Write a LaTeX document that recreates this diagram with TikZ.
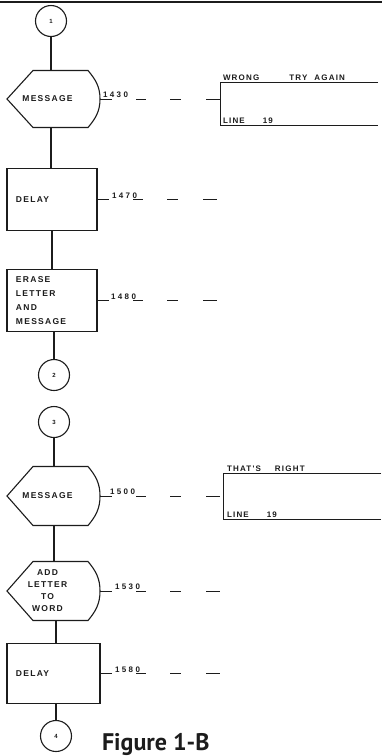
\documentclass[tikz,border=0pt]{standalone}
\usepackage{fontspec}
\usepackage{xcolor}
\usepackage{tikz}
\usetikzlibrary{positioning}
\newfontfamily\flowLetters{Liberation Sans}[LetterSpace=15]
\newfontfamily\flowDigits{Liberation Sans}[LetterSpace=30]
\newfontfamily\flowCaption{PT Sans}
\definecolor{flowInk}{HTML}{1C1C1C}
\tikzset{
  flowLine/.style={
    draw=flowInk,
    line width=1.1pt
  },
  flowStep/.style={
    flowLine,
    minimum width=90pt,
    minimum height=62pt,
    text width=72pt,
    inner xsep=9pt,
    inner ysep=0pt,
    align=left,
    text=flowInk,
    font=\flowLetters\bfseries\fontsize{8.5}{14}\selectfont
  },
  flowDisplay/.style={
    minimum width=81pt,
    minimum height=57pt,
    inner sep=0pt,
    align=center,
    text=flowInk,
    font=\flowLetters\bfseries\fontsize{8.5}{12}\selectfont
  },
  flowConnector/.style={
    flowLine,
    circle,
    minimum size=31pt,
    inner sep=0pt,
    text=flowInk,
    font=\flowLetters\bfseries\fontsize{6}{7}\selectfont
  },
  flowScreen/.style={
    minimum width=158pt,
    inner sep=0pt
  },
  flowScreenText/.style={
    anchor=south west,
    inner sep=1pt,
    text=flowInk,
    font=\flowLetters\bfseries\fontsize{8}{9}\selectfont
  },
  flowCont/.style={
    draw=flowInk,
    line width=0.9pt,
    dash pattern=on 12pt off 24pt on 10pt off 24pt on 11pt off 25pt on 14pt off 40pt
  },
  flowNum/.style={
    anchor=south west,
    inner sep=1pt,
    text=flowInk,
    font=\flowDigits\bfseries\fontsize{8}{9}\selectfont
  }
}
\begin{document}
\begin{tikzpicture}[
  x=1pt, y=1pt,
  every node/.style={outer sep=0pt}
]
\useasboundingbox[fill=white] (0,0) rectangle (382,-756);
\draw[flowInk, line width=1.6pt] (0,-2) -- (382,-2);

% main column
\node[flowConnector] (circOne) at (51,-21) {1};
\node[flowDisplay, below=34pt of circOne, xshift=-3.5pt] (msgWrong) {MESSAGE};
\node[flowStep, below=41pt of msgWrong, xshift=4.5pt] (delayWrong) {DELAY};
\node[flowStep, below=39pt of delayWrong] (eraseLetter)
  {ERASE\\LETTER\\AND\\MESSAGE};
\node[flowConnector, below=28pt of eraseLetter, xshift=2pt] (circTwo) {2};
\node[flowConnector, below=16pt of circTwo] (circThree) {3};
\node[flowDisplay, minimum height=59pt, below=29pt of circThree, xshift=-6.5pt]
  (msgRight) {MESSAGE};
\node[flowDisplay, minimum height=59pt, below=36pt of msgRight] (addLetter)
  {ADD\\LETTER\\TO\\WORD};
\node[flowStep, minimum width=93pt, minimum height=60pt, text width=75pt,
  below=23pt of addLetter, xshift=6pt] (delayRight) {DELAY};
\node[flowConnector, below=17pt of delayRight, xshift=2.5pt] (circFour) {4};

% display outlines
\draw[flowLine] (msgWrong.west) -- ([xshift=26pt]msgWrong.north west)
  -- (msgWrong.north east) to[out=-50,in=90] ([xshift=12pt]msgWrong.east)
  to[out=-90,in=50] (msgWrong.south east) -- ([xshift=26pt]msgWrong.south west)
  -- cycle;
\draw[flowLine] (msgRight.west) -- ([xshift=26pt]msgRight.north west)
  -- (msgRight.north east) to[out=-50,in=90] ([xshift=12pt]msgRight.east)
  to[out=-90,in=50] (msgRight.south east) -- ([xshift=26pt]msgRight.south west)
  -- cycle;
\draw[flowLine] (addLetter.west) -- ([xshift=26pt]addLetter.north west)
  -- (addLetter.north east) to[out=-50,in=90] ([xshift=12pt]addLetter.east)
  to[out=-90,in=50] (addLetter.south east) -- ([xshift=26pt]addLetter.south west)
  -- cycle;

\draw[flowLine] (circOne.south) -- (circOne |- msgWrong.north);
\draw[flowLine] (msgWrong.south -| circOne) -- (delayWrong.north -| circOne);
\draw[flowLine] (delayWrong.south) -- (eraseLetter.north);
\draw[flowLine] (eraseLetter.south -| circTwo) -- (circTwo.north);
\draw[flowLine] (circThree.south) -- (circThree |- msgRight.north);
\draw[flowLine] (msgRight.south -| circThree) -- (addLetter.north -| circThree);
\draw[flowLine] (addLetter.south -| circFour) -- (delayRight.north -| circFour);
\draw[flowLine] (delayRight.south -| circFour) -- (circFour.north);

% screen text
\node[flowScreen, minimum height=43pt, right=132pt of msgWrong, yshift=-5pt]
  (scrWrong) {};
\draw[flowLine, line width=0.9pt] (scrWrong.north east) -- (scrWrong.north west)
  -- (scrWrong.south west) -- (scrWrong.south east);
\node[flowScreenText] (txtWrong) at ([xshift=2pt,yshift=1pt]scrWrong.north west)
  {WRONG\hspace{30pt}TRY\hspace{7pt}AGAIN};
\node[flowScreenText] (lineWrong) at ([xshift=2pt,yshift=1pt]scrWrong.south west)
  {LINE\hspace{18pt}19};

\node[flowScreen, minimum height=46pt, right=135pt of msgRight, yshift=-0.5pt]
  (scrRight) {};
\draw[flowLine, line width=0.9pt] (scrRight.north east) -- (scrRight.north west)
  -- (scrRight.south west) -- (scrRight.south east);
\node[flowScreenText] (txtRight) at ([xshift=3pt,yshift=1pt]scrRight.north west)
  {THAT'S\hspace{14pt}RIGHT};
\node[flowScreenText] (lineRight) at ([xshift=3pt,yshift=1pt]scrRight.south west)
  {LINE\hspace{18pt}19};

% line numbers
\coordinate (endDelayWrong) at ([xshift=123pt]delayWrong.east);
\coordinate (endErase) at ([xshift=122pt]eraseLetter.east);
\coordinate (endAdd) at ([xshift=135pt]addLetter.east);
\coordinate (endDelayRight) at ([xshift=125pt]delayRight.east);

\draw[flowCont] ([xshift=12pt]msgWrong.east) -- node[flowNum, pos=0, xshift=2pt]
  (numWrong) {1430} (msgWrong.east -| scrWrong.west);
\draw[flowCont] (delayWrong.east) -- node[flowNum, pos=0, xshift=14pt]
  (numDelayWrong) {1470} (endDelayWrong);
\draw[flowCont] (eraseLetter.east) -- node[flowNum, pos=0, xshift=13pt]
  (numErase) {1480} (endErase);
\draw[flowCont] ([xshift=12pt]msgRight.east) -- node[flowNum, pos=0, xshift=9pt]
  (numRight) {1500} (msgRight.east -| scrRight.west);
\draw[flowCont] ([xshift=12pt]addLetter.east) -- node[flowNum, pos=0, xshift=14pt]
  (numAdd) {1530} (endAdd);
\draw[flowCont] (delayRight.east) -- node[flowNum, pos=0, xshift=14pt]
  (numDelayRight) {1580} (endDelayRight);

\node[anchor=base west, inner sep=0pt, text=flowInk,
  font=\flowCaption\bfseries\fontsize{24}{26}\selectfont]
  (figCaption) at (102,-750) {Figure 1-B};
\end{tikzpicture}
\end{document}
